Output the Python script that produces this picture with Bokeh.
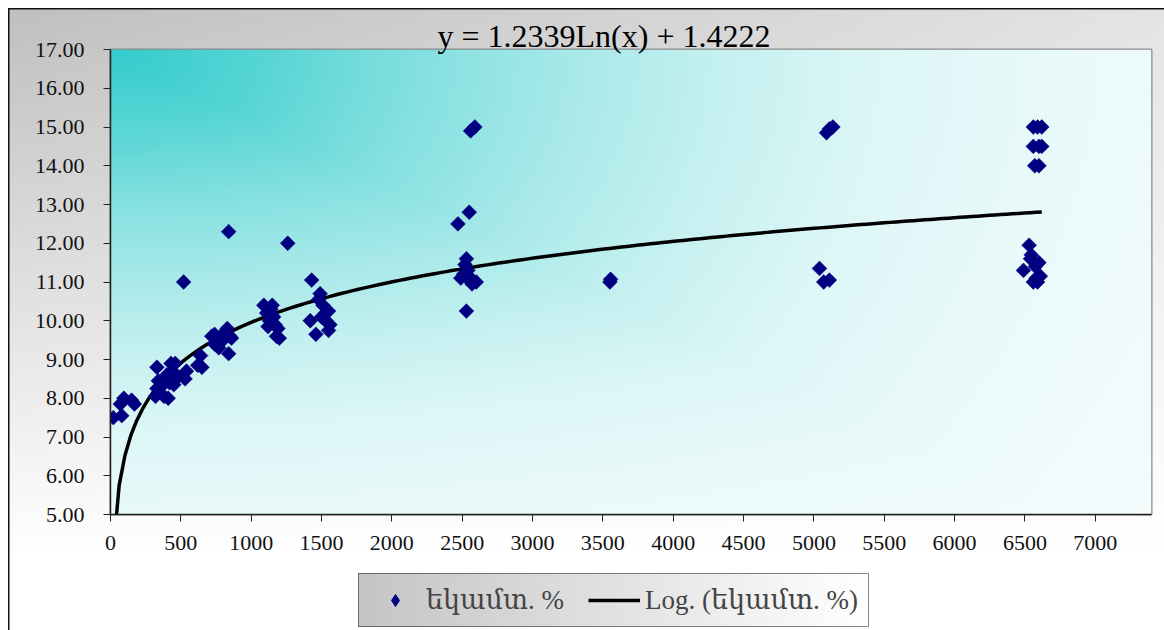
import numpy as np
from bokeh.plotting import figure
from bokeh.layouts import column
from bokeh.models import Range1d, FixedTicker, Legend, LegendItem, NumeralTickFormatter
from bokeh.embed import file_html
from bokeh.resources import INLINE

# ---- data ----
x_vals = [20, 80, 70, 95, 150, 170,
          320, 330, 330, 340, 360, 380, 400, 410, 420, 430, 440, 450, 460, 480,
          520, 530, 540, 620, 640, 650,
          720, 740, 740, 760, 770, 800, 810, 830, 840, 850, 840, 860,
          1090, 1110, 1120, 1140, 1150, 1160, 1170, 1180, 1190, 1200, 1260, 1130,
          1430, 1420, 1460, 1490, 1480, 1510, 1500, 1530, 1550, 1560, 1550, 1530,
          2470, 2550, 2560, 2590, 2530, 2520, 2510, 2490, 2540, 2550, 2570, 2600, 2530, 2560,
          3550, 3555,
          5040, 5070, 5110, 5090, 5110, 5135,
          6560, 6590, 6620, 6560, 6600, 6620, 6570, 6600, 6530, 6545, 6540, 6575,
          6490, 6600, 6580, 6560, 6590, 6610]
y_vals = [7.5, 7.55, 7.85, 8.0, 7.95, 7.85,
          8.05, 8.8, 8.25, 8.45, 8.3, 8.05, 8.6, 8.0, 8.4, 8.9, 8.7, 8.35, 8.9, 8.55,
          11.0, 8.5, 8.7, 8.85, 9.1, 8.8,
          9.6, 9.65, 9.4, 9.5, 9.3, 9.5, 9.7, 9.8, 9.15, 9.6, 12.3, 9.55,
          10.4, 10.2, 9.85, 10.3, 10.4, 10.1, 9.9, 9.6, 9.8, 9.55, 12.0, 10.0,
          11.05, 10.0, 9.65, 10.7, 10.55, 10.4, 10.1, 10.2, 10.25, 9.9, 9.75, 10.0,
          12.5, 12.8, 14.9, 15.0, 11.6, 11.45, 11.2, 11.1, 11.3, 11.05, 10.95, 11.0, 10.25, 11.1,
          11.0, 11.07,
          11.35, 11.0, 11.05, 14.85, 14.95, 15.0,
          15.0, 15.0, 15.0, 14.5, 14.5, 14.5, 14.0, 14.0, 11.95, 11.7, 11.6, 11.4,
          11.3, 11.5, 11.1, 11.0, 11.0, 11.15]

# logarithmic trend line as drawn in the picture: y = a*ln(x) + b
trend_a = 1.508
trend_b = -0.46

x_ticks = list(range(0, 7001, 500))
y_ticks = [5, 6, 7, 8, 9, 10, 11, 12, 13, 14, 15, 16, 17]
equation_text = "y = 1.2339Ln(x) + 1.4222"
series_label = "եկամտ. %"
trend_label = "Log. (եկամտ. %)"

X_MIN, X_MAX = 0, 7400
Y_MIN, Y_MAX = 5, 17

FONT = "Liberation Serif"
LEG_FONT = "Liberation Serif, DejaVu Serif"
W = 1164
H1, H2 = 573, 57
ML, MT, MR, MB = 110, 49, 13, 59

# legend box (pixels inside the lower strip) for its gradient fill
LG_L, LG_T, LG_W, LG_H = 358, 0, 511, 54

# ---------------- main chart ----------------
p = figure(width=W, height=H1, output_backend="svg", toolbar_location=None,
           x_range=Range1d(X_MIN, X_MAX), y_range=Range1d(Y_MIN, Y_MAX),
           min_border_left=ML, min_border_right=MR, min_border_top=MT, min_border_bottom=MB)
p.background_fill_color = "white"
p.border_fill_color = None
p.outline_line_color = "#8a8a8a"
p.outline_line_width = 2

p.styles = {
    "background-color": "white",
    "background-image": (
        "linear-gradient(#111,#111), linear-gradient(#111,#111), "
        "linear-gradient(to bottom, rgba(255,255,255,0) 0%, rgba(255,255,255,1) 97%), "
        "linear-gradient(to right, #bfbfbf 0%, #e4e4e4 100%)"),
    "background-position": "8px 8px, 8px 8px, 8px 8px, 8px 8px",
    "background-size": ("calc(100% - 8px) 1.5px, 1.5px 100%, "
                        "calc(100% - 8px) calc(100% - 8px), calc(100% - 8px) calc(100% - 8px)"),
    "background-repeat": "no-repeat",
}

# plot-area gradient (teal from the top-left corner, fading to white)
gh, gw = 120, 260
u = (np.arange(gw) + 0.5) / gw
v = 1 - (np.arange(gh) + 0.5) / gh          # 0 at top, 1 at bottom
U, V = np.meshgrid(u, v)
a, b = U / 0.75, V / 0.83
d = 0.5 * (np.maximum(a, b) + np.sqrt(a * a + b * b))
inten = np.interp(d, [0, 0.2, 0.4, 0.6, 0.8, 1.0, 1.3, 1.7, 2.5],
                  [1, 0.82, 0.6, 0.42, 0.27, 0.16, 0.09, 0.03, 0.0])
img = np.zeros((gh, gw), dtype=np.uint32)
view = img.view(dtype=np.uint8).reshape((gh, gw, 4))
view[:, :, 0] = (255 - 204 * inten).astype(np.uint8)
view[:, :, 1] = (255 - 51 * inten).astype(np.uint8)
view[:, :, 2] = (255 - 51 * inten).astype(np.uint8)
view[:, :, 3] = 255
p.image_rgba(image=[img], x=X_MIN, y=Y_MIN, dw=X_MAX - X_MIN, dh=Y_MAX - Y_MIN)

# axes
p.xaxis.ticker = FixedTicker(ticks=x_ticks)
p.yaxis.ticker = FixedTicker(ticks=y_ticks)
p.yaxis.formatter = NumeralTickFormatter(format="0.00")
for ax in (p.xaxis[0], p.yaxis[0]):
    ax.axis_line_color = "#222222"
    ax.axis_line_width = 1.5
    ax.major_tick_line_color = "#222222"
    ax.major_tick_line_width = 1
    ax.major_tick_in = 0
    ax.major_tick_out = 7
    ax.minor_tick_line_color = None
    ax.major_label_text_font = FONT
    ax.major_label_text_font_size = "22px"
    ax.major_label_text_color = "#111111"
p.yaxis.major_label_standoff = 19
p.xaxis.major_label_standoff = 14

p.xgrid.visible = False
p.ygrid.ticker = FixedTicker(ticks=y_ticks)
p.ygrid.grid_line_color = "#1a1a1a"
p.ygrid.grid_line_width = 1

# trend line
tx = np.linspace(min(x_vals), max(x_vals), 160)
ty = trend_a * np.log(tx) + trend_b
ln = p.line(tx, ty, line_color="black", line_width=3.5)

# scatter points (diamonds)
sc = p.scatter(x_vals, y_vals, marker="square", size=10.5, angle=np.pi / 4,
               fill_color="#000080", line_color="#000080", line_width=0.5)

# equation (trend-line label) as title
p.title.text = equation_text
p.title.text_font = FONT
p.title.text_font_size = "32px"
p.title.text_font_style = "normal"
p.title.align = "left"
p.title.offset = 327
p.title.standoff = -9
p.title.text_color = "black"

# ---------------- legend strip ----------------
p2 = figure(width=W, height=H2, output_backend="svg", toolbar_location=None,
            x_range=Range1d(0, 1), y_range=Range1d(0, 1),
            x_axis_location=None, y_axis_location=None, min_border=0)
p2.grid.visible = False
p2.outline_line_color = None
p2.background_fill_color = None
p2.border_fill_color = None
p2.styles = {
    "background-color": "white",
    "background-image": "linear-gradient(#111,#111), linear-gradient(to right, #c4c4c4 0%, #ffffff 100%)",
    "background-position": f"8px 0px, {LG_L}px {LG_T}px",
    "background-size": f"1.5px 100%, {LG_W}px {LG_H}px",
    "background-repeat": "no-repeat",
}
# legend proxies: the series' own data, which lies outside this strip's 0..1 ranges
leg_marker = p2.scatter(x_vals, y_vals, marker="diamond", size=17,
                        fill_color="#000080", line_color="#000080")
leg_line = p2.line(tx, ty, line_color="black", line_width=3.5)

# frames of p and p2 are aligned by the column, so the legend x is relative to x=ML
legend = Legend(items=[LegendItem(label=series_label, renderers=[leg_marker]),
                       LegendItem(label=trend_label, renderers=[leg_line])],
                orientation="horizontal", location=(LG_L - ML, H2 - LG_T - LG_H))
legend.label_text_font = LEG_FONT
legend.label_text_font_size = "27px"
legend.glyph_width = 52
legend.glyph_height = 30
legend.label_standoff = 5
legend.spacing = 24
legend.padding = 10
legend.margin = 0
legend.border_line_color = "#111111"
legend.border_line_width = 1
legend.background_fill_alpha = 0.0
p2.add_layout(legend)

layout = column(p, p2, spacing=0)
open("out.html", "w").write(file_html(layout, INLINE))
